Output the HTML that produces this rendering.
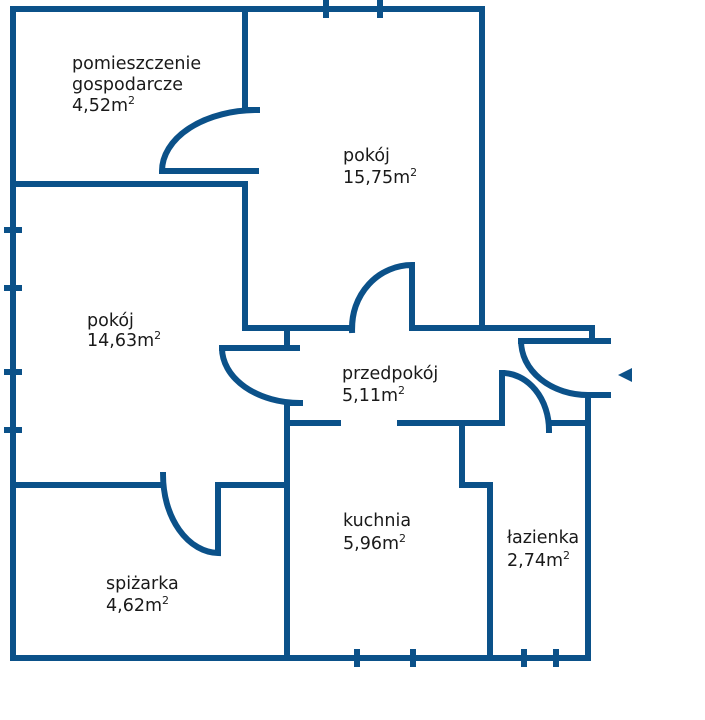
<!DOCTYPE html>
<html><head><meta charset="utf-8"><style>
html,body{margin:0;padding:0;background:#fff;width:705px;height:720px;overflow:hidden}
svg text{font-family:"DejaVu Sans","Liberation Sans",sans-serif;font-size:17.5px;fill:#1a1a1a}
</style></head><body>
<svg width="705" height="720" viewBox="0 0 705 720" xmlns="http://www.w3.org/2000/svg">
<g stroke="#0b5189" stroke-width="6" fill="none" stroke-linecap="square">
<path d="M482 9 H13 V658 H588 V395"/>
<path d="M482 9 V328"/>
<path d="M245 9 V110 H257"/>
<path d="M257 110 A95 61 0 0 0 162 171 H256"/>
<path d="M13 184 H245 V328 H352"/>
<path d="M352 330 A60 63 0 0 1 412 265 V328 H592 V341"/>
<path d="M287 328 V348"/>
<path d="M222 348 H297"/>
<path d="M222 348 A78 55 0 0 0 300 403"/>
<path d="M287 403 H300"/>
<path d="M287 403 V658"/>
<path d="M287 423 H338"/>
<path d="M400 423 H502 V373"/>
<path d="M502 373 A47 57 0 0 1 549 430"/>
<path d="M549 423 H588"/>
<path d="M462 423 V485 H490 V658"/>
<path d="M521 341 H608"/>
<path d="M521 341 A67 54 0 0 0 588 395 H608"/>
<path d="M13 485 H163"/>
<path d="M163 475 A56 78 0 0 0 218 553 V485 H287"/>
<path d="M326 3 V15 M380 3 V15"/>
<path d="M7 230 H19 M7 288 H19 M7 372 H19 M7 430 H19"/>
<path d="M357 652 V664 M413 652 V664 M524 652 V664 M556 652 V664"/>
</g>
<polygon points="618,375 632,368 632,382" fill="#0b5189"/>
<text x="72" y="69">pomieszczenie</text>
<text x="72" y="90">gospodarcze</text>
<text x="72" y="111">4,52m<tspan dy="-7" font-size="11">2</tspan></text>
<text x="343" y="161">pokój</text>
<text x="343" y="183">15,75m<tspan dy="-7" font-size="11">2</tspan></text>
<text x="87" y="326">pokój</text>
<text x="87" y="346">14,63m<tspan dy="-7" font-size="11">2</tspan></text>
<text x="342" y="379">przedpokój</text>
<text x="342" y="401">5,11m<tspan dy="-7" font-size="11">2</tspan></text>
<text x="343" y="526">kuchnia</text>
<text x="343" y="549">5,96m<tspan dy="-7" font-size="11">2</tspan></text>
<text x="507" y="543">łazienka</text>
<text x="507" y="566">2,74m<tspan dy="-7" font-size="11">2</tspan></text>
<text x="106" y="589">spiżarka</text>
<text x="106" y="611">4,62m<tspan dy="-7" font-size="11">2</tspan></text>
</svg>
</body></html>
